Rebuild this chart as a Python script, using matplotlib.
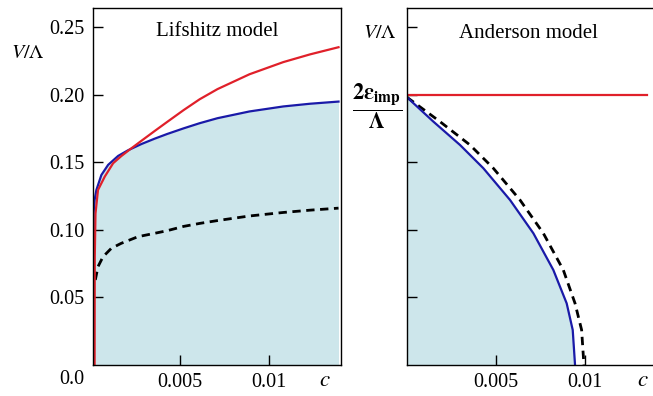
import matplotlib
matplotlib.use("Agg")
import matplotlib.pyplot as plt

plt.rcParams['font.family'] = ['Liberation Serif', 'DejaVu Serif']
plt.rcParams['mathtext.fontset'] = 'stix'

# ---- Lifshitz model (left panel) ----
lif_blue_c = [0.00012, 0.00014, 0.0002, 0.0003, 0.00058, 0.00096, 0.00152, 0.00208, 0.00283,
              0.00358, 0.00427, 0.0052, 0.0061, 0.0071, 0.0089, 0.0108, 0.0123, 0.0139]
lif_blue_v = [0.0, 0.112, 0.122, 0.1294, 0.1405, 0.148, 0.1546, 0.1588, 0.1634,
              0.1674, 0.1708, 0.1750, 0.1788, 0.1825, 0.1875, 0.1912, 0.1932, 0.1948]

lif_red_c = [0.0002, 0.00021, 0.00025, 0.00039, 0.00077, 0.00124, 0.0017, 0.00217, 0.00283,
             0.00358, 0.00427, 0.0052, 0.0061, 0.0071, 0.0089, 0.0108, 0.0123, 0.0139]
lif_red_v = [0.0, 0.08, 0.112, 0.1294, 0.1393, 0.1492, 0.1545, 0.1593, 0.1658,
             0.1731, 0.1797, 0.1885, 0.1965, 0.2040, 0.2150, 0.2240, 0.2297, 0.2350]

lif_dash_c = [0.00024, 0.00039, 0.00067, 0.00114, 0.0017, 0.00264, 0.00358, 0.00427, 0.0052,
              0.0061, 0.0071, 0.0089, 0.0108, 0.0123, 0.0139]
lif_dash_v = [0.0629, 0.0727, 0.080, 0.0863, 0.090, 0.0949, 0.0974, 0.0993, 0.1025,
              0.1047, 0.1068, 0.1102, 0.1128, 0.1145, 0.116]

# ---- Anderson model (right panel) ----
and_blue_c = [0.0, 0.00148, 0.00298, 0.00429, 0.00579, 0.0071, 0.00822, 0.00897, 0.00931, 0.00944]
and_blue_v = [0.198, 0.180, 0.1627, 0.1455, 0.122, 0.0974, 0.0703, 0.0456, 0.0259, 0.0]

and_dash_c = [0.0, 0.00185, 0.00354, 0.00485, 0.00635, 0.00766, 0.00878, 0.00944, 0.00981, 0.00994]
and_dash_v = [0.198, 0.180, 0.1627, 0.1455, 0.122, 0.0974, 0.0703, 0.0456, 0.0259, 0.0]

and_red_c = [0.0, 0.0135]
and_red_v = [0.20, 0.20]

left_yticks = [0.05, 0.10, 0.15, 0.20, 0.25]
left_yticklabels = ['0.05', '0.10', '0.15', '0.20', '0.25']
xticks = [0.005, 0.01]
xticklabels = ['0.005', '0.01']
right_yticks = [0.05, 0.10, 0.15, 0.20, 0.25]

fill_color = '#cde6eb'
red = '#e0202a'
blue = '#1a1aa8'
FS = 14.5

W, H = 653, 396
fig = plt.figure(figsize=(W / 100, H / 100), dpi=100)

def fx(px):
    return px / W

def fy(py):
    return 1 - py / H

ax1 = fig.add_axes([fx(93), fy(365), fx(341) - fx(93), fy(8) - fy(365)])
ax2 = fig.add_axes([fx(407), fy(365), 1 - fx(407), fy(8) - fy(365)])

ylim = (0, 0.264)

# left
ax1.fill_between(lif_blue_c, lif_blue_v, 0, color=fill_color, lw=0)
ax1.fill_between([0, lif_blue_c[0]], [lif_blue_v[1]] * 2, 0, color=fill_color, lw=0)
ax1.plot(lif_dash_c, lif_dash_v, color='black', lw=2.0, dashes=(3, 2), solid_joinstyle='round')
ax1.plot(lif_blue_c, lif_blue_v, color=blue, lw=1.6, solid_joinstyle='round')
ax1.plot(lif_red_c, lif_red_v, color=red, lw=1.6, solid_joinstyle='round')
ax1.set_xlim(0.00011, 0.01404)
ax1.set_ylim(*ylim)
ax1.set_yticks(left_yticks)
ax1.set_yticklabels(left_yticklabels, fontsize=FS)
ax1.set_xticks(xticks)
ax1.set_xticklabels(xticklabels, fontsize=FS)
ax1.tick_params(direction='in', length=7, width=1, pad=6)
ax1.tick_params(axis='x', pad=6)
ax1.text(0.5, 0.935, 'Lifshitz model', transform=ax1.transAxes, ha='center', va='center', fontsize=FS + 0.5)
fig.text(fx(72), fy(380), '0.0', ha='center', va='center', fontsize=FS)
fig.text(fx(325), fy(380), '$c$', ha='center', va='center', fontsize=FS + 2)
fig.text(fx(28), fy(53), r'$V/\Lambda$', ha='center', va='center', fontsize=FS)

# right
ax2.fill_between(and_blue_c, and_blue_v, 0, color=fill_color, lw=0)
ax2.plot(and_dash_c, and_dash_v, color='black', lw=2.0, dashes=(3, 2))
ax2.plot(and_blue_c, and_blue_v, color=blue, lw=1.6, solid_joinstyle='round')
ax2.plot(and_red_c, and_red_v, color=red, lw=1.6)
ax2.set_xlim(0, 0.01382)
ax2.set_ylim(*ylim)
ax2.set_yticks(right_yticks)
ax2.set_yticklabels([])
ax2.set_xticks(xticks)
ax2.set_xticklabels(xticklabels, fontsize=FS)
ax2.tick_params(direction='in', length=7, width=1, pad=6)
ax2.tick_params(axis='x', pad=6)
ax2.spines['right'].set_visible(False)
fig.text(fx(528), fy(33), 'Anderson model', ha='center', va='center', fontsize=FS + 0.5)
fig.text(fx(380), fy(33), r'$V/\Lambda$', ha='center', va='center', fontsize=FS)
fig.text(fx(377), fy(106), r'$\mathbf{\dfrac{2\varepsilon_{imp}}{\Lambda}}$', ha='center', va='center', fontsize=FS + 1.5)
fig.text(fx(643), fy(380), '$c$', ha='center', va='center', fontsize=FS + 2)

for ax in (ax1, ax2):
    for s in ax.spines.values():
        s.set_linewidth(1.0)

fig.savefig('out.png', dpi=100)
